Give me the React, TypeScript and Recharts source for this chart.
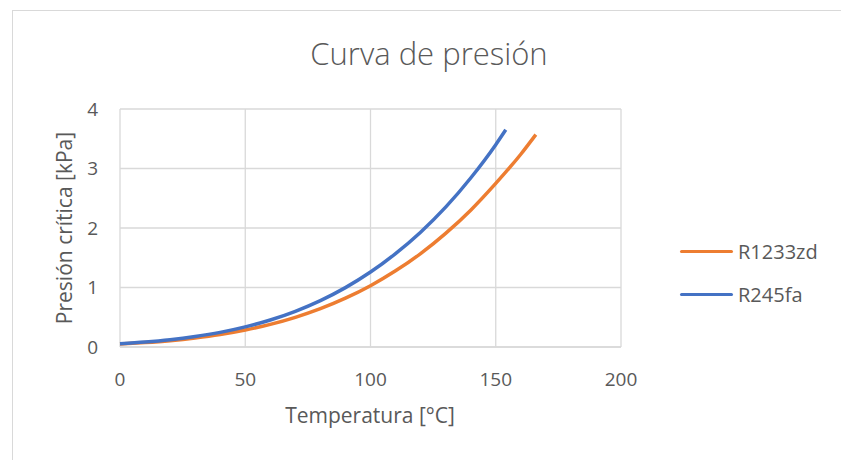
import React from "react";
import { LineChart, Line, XAxis, YAxis, CartesianGrid } from "recharts";

// Curvas de presión de saturación
const tempR1233zd = [0, 10, 20, 30, 40, 50, 60, 70, 80, 90, 100, 110, 120, 130, 140, 150, 160, 166];
const presR1233zd = [0.049, 0.074, 0.107, 0.152, 0.21, 0.286, 0.38, 0.499, 0.644, 0.82, 1.03, 1.28, 1.57, 1.91, 2.3, 2.75, 3.24, 3.57];

const tempR245fa = [0, 10, 20, 30, 40, 50, 60, 70, 80, 90, 100, 110, 120, 130, 140, 150, 154];
const presR245fa = [0.055, 0.083, 0.122, 0.176, 0.246, 0.338, 0.454, 0.6, 0.78, 0.998, 1.26, 1.57, 1.93, 2.35, 2.84, 3.4, 3.65];

const xTicks = [0, 50, 100, 150, 200];
const yTicks = [0, 1, 2, 3, 4];

const C = { orange: "#ED7D31", blue: "#4472C4", grid: "#D9D9D9", text: "#595959" };
const FONT = "'Open Sans', 'Noto Sans', sans-serif";

const dataR1233zd = tempR1233zd.map((t, i) => ({ t, p: presR1233zd[i] }));
const dataR245fa = tempR245fa.map((t, i) => ({ t, p: presR245fa[i] }));

const SERIES = [
  { name: "R1233zd", color: C.orange },
  { name: "R245fa", color: C.blue },
];

const tick = { fontSize: 19, fill: C.text, fontFamily: FONT } as const;
const abs = (s: React.CSSProperties): React.CSSProperties => ({ position: "absolute", fontFamily: FONT, color: C.text, whiteSpace: "nowrap", ...s });

export default function App() {
  return (
    <div style={{ position: "absolute", left: 0, top: 0, width: 841, height: 460, background: "#fff", overflow: "hidden" }}>
      <div style={{ position: "absolute", left: 12, top: 10, width: 900, height: 500, border: `1px solid ${C.grid}` }} />
      {/* título */}
      <div style={abs({ left: 229, top: 33, width: 400, textAlign: "center", fontSize: 31, fontWeight: 300, lineHeight: "40px" })}>
        Curva de presión
      </div>
      <div style={{ position: "absolute", left: 0, top: 0 }}>
        <LineChart width={841} height={460} margin={{ top: 109, right: 220, left: 60, bottom: 53 }}>
          <CartesianGrid stroke={C.grid} strokeWidth={1.3} />
          <XAxis type="number" dataKey="t" domain={[0, 200]} ticks={xTicks} tick={tick}
            tickLine={false} axisLine={{ stroke: C.grid, strokeWidth: 1.3 }} tickMargin={20} height={60} />
          <YAxis type="number" domain={[0, 4]} ticks={yTicks} tick={tick} tickLine={false} axisLine={false}
            tickMargin={16} width={60} />
          <Line data={dataR1233zd} dataKey="p" name="R1233zd" type="monotone" stroke={C.orange} strokeWidth={3.5}
            dot={false} isAnimationActive={false} />
          <Line data={dataR245fa} dataKey="p" name="R245fa" type="monotone" stroke={C.blue} strokeWidth={3.5}
            dot={false} isAnimationActive={false} />
        </LineChart>
      </div>
      {/* títulos de ejes */}
      <div style={abs({ left: 220, top: 401, width: 300, textAlign: "center", fontSize: 21, lineHeight: "28px" })}>
        Temperatura [°C]
      </div>
      <div style={abs({ left: 64 - 150, top: 228 - 14, width: 300, textAlign: "center", fontSize: 21, lineHeight: "28px", transform: "rotate(-90deg)" })}>
        Presión crítica [kPa]
      </div>
      {/* leyenda */}
      <div style={abs({ left: 680, top: 230, fontSize: 20 })}>
        {SERIES.map((s) => (
          <div key={s.name} style={{ display: "flex", alignItems: "center", height: 43 }}>
            <span style={{ display: "inline-block", width: 53, height: 3.5, background: s.color, borderRadius: 2, marginRight: 5 }} />
            {s.name}
          </div>
        ))}
      </div>
    </div>
  );
}
